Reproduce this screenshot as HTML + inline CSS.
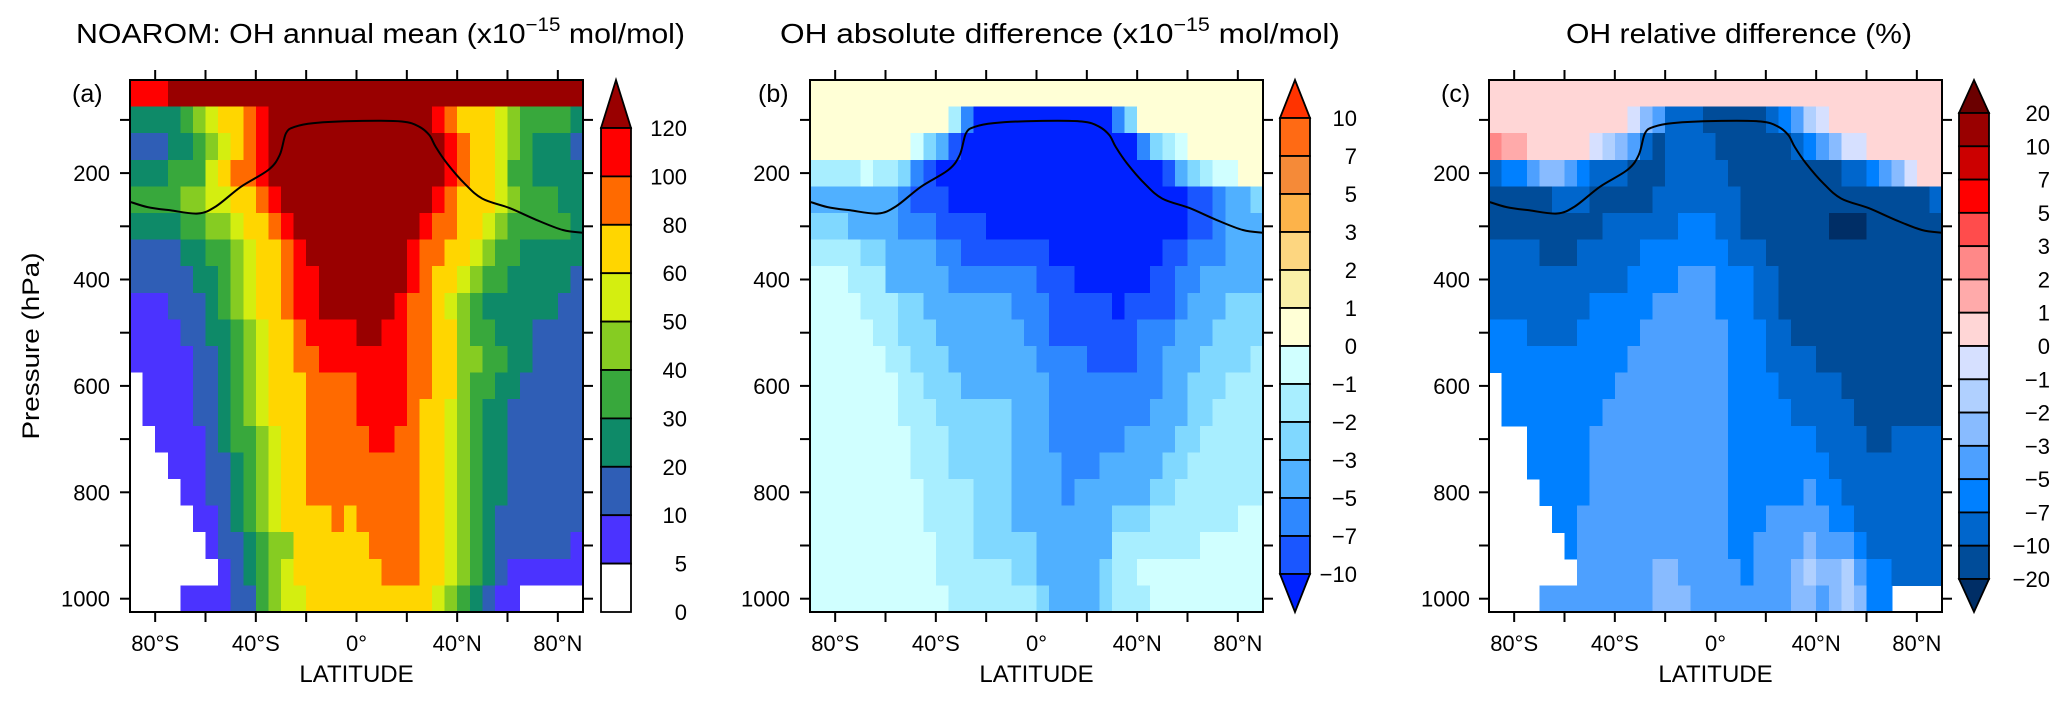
<!DOCTYPE html>
<html>
<head>
<meta charset="utf-8">
<style>
html,body{margin:0;padding:0;background:#fff;}
svg{display:block;}
text{font-family:"Liberation Sans",sans-serif;fill:#000;}
</style>
</head>
<body>
<svg id="chart" xmlns="http://www.w3.org/2000/svg" width="2067" height="701" viewBox="0 0 2067 701">
  <rect x="0" y="0" width="2067" height="701" fill="#fff"/>
  <text x="76" y="43" font-size="28" textLength="609" lengthAdjust="spacingAndGlyphs">NOAROM: OH annual mean (x10<tspan font-size="19" dy="-12">−15</tspan><tspan dy="12"> mol/mol)</tspan></text>
  <text x="780" y="43" font-size="28" textLength="560" lengthAdjust="spacingAndGlyphs">OH absolute difference (x10<tspan font-size="19" dy="-12">−15</tspan><tspan dy="12"> mol/mol)</tspan></text>
  <text x="1566" y="43" font-size="28" textLength="346" lengthAdjust="spacingAndGlyphs">OH relative difference (%)</text>
  <text x="72" y="102" font-size="25">(a)</text>
  <text x="758" y="102" font-size="25">(b)</text>
  <text x="1441" y="102" font-size="25">(c)</text>
  <text x="0" y="0" font-size="24" text-anchor="middle" transform="translate(39,346) rotate(-90)" textLength="187" lengthAdjust="spacingAndGlyphs">Pressure (hPa)</text>
</svg>
<script>
// ---------- data ----------
const PRESS_CENTERS = [50,100,150,200,250,300,350,400,450,500,550,600,650,700,750,800,850,900,950,1000];
const LAT_START = -90;
const LAT_STEP = 5;
const N_COLS = 36;
const Y_TICKS = [100,200,300,400,500,600,700,800,900,1000];
const Y_TICK_LABELS = ['200','400','600','800','1000'];
const Y_TICK_LABEL_VALUES = [200,400,600,800,1000];
const X_TICKS = [-80,-60,-40,-20,0,20,40,60,80];
const X_TICK_LABEL_VALUES = [-80,-40,0,40,80];
const X_TICK_LABELS = ['80°S','40°S','0°','40°N','80°N'];

// tropopause (hPa) vs latitude
const TROPO_LAT = [-90,-83,-74,-63,-56,-46,-35,-30.5,-28,-24.5,-17,0,18,25,29,31.5,36,43,50,61,71.5,82,90];
const TROPO_P   = [254,264,270,276,263,226,194,166,125,113,106,102,103,113,129,151,182,220,248,266,288,307,312];

// levels / colors
const LEV_A = [5,10,20,30,40,50,60,80,100,120];
const COL_A = ['#FFFFFF','#4B33FF','#2F5EB6','#0E8A68','#38A83C','#86CC22','#D4EE10','#FFD600','#FF6A00','#FF0000','#990000'];
const CB_LABELS_A = ['120','100','80','60','50','40','30','20','10','5','0'];
const LEV_B = [-10,-7,-5,-3,-2,-1,0,1,2,3,5,7,10];
const COL_B = ['#0022FF','#1A56FF','#2E88FF','#50B0FF','#80D8FF','#A8EEFF','#D0FFFF','#FFFFD6','#FAF0A8','#FDD680','#FDB34A','#F58A38','#FF6A14','#FF3300'];
const CB_LABELS_B = ['10','7','5','3','2','1','0','−1','−2','−3','−5','−7','−10'];
const LEV_C = [-20,-10,-7,-5,-3,-2,-1,0,1,2,3,5,7,10,20];
const COL_C = ['#002E66','#004C99','#0066CC','#0080FF','#4DA0FF','#88BBFF','#B0D0FF','#D6E0FF','#FFD6D6','#FFAAAA','#FF8888','#FF4C4C','#FF0000','#CC0000','#990000','#6B0000'];
const CB_LABELS_C = ['20','10','7','5','3','2','1','0','−1','−2','−3','−5','−7','−10','−20'];

// run-length rows: value,count pairs (null = missing)
const A_ROWS = [
[110,3,130,33],
[25,4,35,1,45,1,55,1,70,2,90,1,110,1,130,13,110,1,90,1,70,3,55,1,45,1,35,4,25,1],
[15,3,25,2,35,1,45,1,55,1,70,1,90,1,110,1,130,14,110,1,90,1,70,2,55,1,45,1,35,1,25,3,15,1],
[25,3,35,3,55,1,70,1,90,2,110,1,130,14,110,1,90,1,70,2,55,1,35,2,25,4],
[35,4,45,2,55,2,70,2,90,1,110,1,130,12,110,1,90,1,70,3,55,1,45,1,35,3,25,2],
[25,4,35,2,45,2,55,1,70,2,90,1,110,1,130,10,110,1,90,2,70,2,55,1,45,1,35,5,25,1],
[15,4,25,2,35,2,45,1,55,1,70,2,90,1,110,1,130,8,110,1,90,2,70,2,55,1,45,1,35,2,25,5],
[15,5,25,2,35,1,45,1,55,1,70,2,90,1,110,2,130,7,110,1,90,1,70,2,55,1,45,1,35,2,25,5,15,1],
[7,3,15,3,25,1,35,1,45,1,55,1,70,2,90,1,110,2,130,6,110,1,90,2,70,1,55,1,45,1,35,1,25,6,15,2],
[7,4,15,2,25,2,35,1,45,1,55,1,70,2,90,1,110,4,130,2,110,2,90,2,70,2,45,1,35,2,25,3,15,4],
[7,5,15,2,25,1,35,1,45,1,55,1,70,2,90,2,110,7,90,2,70,2,45,2,35,2,25,2,15,4],
[2,1,7,4,15,2,25,1,35,1,45,1,55,1,70,3,90,4,110,4,90,2,70,2,45,1,35,2,25,2,15,5],
[2,1,7,4,15,2,25,1,35,1,45,1,55,1,70,3,90,4,110,4,90,1,70,2,55,1,45,1,35,1,25,2,15,6],
[2,2,7,4,15,1,25,1,35,2,45,1,55,1,70,2,90,5,110,2,90,2,70,2,55,1,45,1,35,1,25,2,15,6],
[2,3,7,3,15,2,25,1,35,1,45,1,55,1,70,2,90,9,70,2,55,1,45,1,35,1,25,2,15,6],
[2,4,7,2,15,2,25,1,35,1,45,1,55,1,70,2,90,9,70,2,55,1,45,1,35,1,25,2,15,6],
[2,5,7,2,15,1,25,1,35,1,45,1,55,1,70,4,90,1,70,1,90,5,70,2,55,1,45,1,35,1,25,1,15,7],
[2,6,7,1,15,2,25,1,35,1,45,2,70,6,90,4,70,2,55,1,45,1,35,1,25,1,15,6,7,1],
[2,7,7,1,15,1,25,1,35,1,45,1,55,1,70,7,90,3,70,2,55,1,45,1,35,1,25,1,15,1,7,6],
[2,4,7,4,15,2,35,1,45,1,55,2,70,10,55,1,45,1,35,1,25,1,15,1,7,2,2,5]
];
const B_ROWS = [
[0.5,36],
[0.5,11,-1.5,1,-6,1,-12,11,-6,1,-2.5,1,0.5,10],
[0.5,8,-0.5,1,-2.5,1,-4,1,-8.5,1,-12,14,-6,1,-2.5,1,-1.5,1,-0.5,1,0.5,6],
[-1.5,4,-0.5,1,-1.5,2,-2.5,1,-6,1,-8.5,1,-12,18,-8.5,1,-4,1,-2.5,1,-1.5,1,-0.5,2,0.5,2],
[-4,7,-6,1,-8.5,3,-12,19,-8.5,2,-6,1,-4,2,-2.5,1],
[-2.5,3,-4,4,-6,3,-8.5,4,-12,16,-8.5,2,-6,1,-4,3],
[-1.5,4,-2.5,2,-4,4,-6,2,-8.5,7,-12,9,-8.5,2,-6,3,-4,3],
[-0.5,3,-1.5,3,-4,5,-6,7,-8.5,3,-12,6,-8.5,2,-6,2,-4,5],
[-0.5,4,-1.5,3,-2.5,2,-4,7,-6,3,-8.5,5,-12,1,-8.5,4,-6,1,-4,3,-2.5,3],
[-0.5,5,-1.5,2,-2.5,3,-4,7,-6,2,-8.5,7,-6,3,-4,3,-2.5,4],
[-0.5,6,-1.5,2,-2.5,3,-4,7,-6,4,-8.5,4,-6,2,-4,3,-2.5,4,-1.5,1],
[-0.5,7,-1.5,2,-2.5,3,-4,7,-6,9,-4,2,-2.5,3,-1.5,3],
[-0.5,7,-1.5,3,-2.5,6,-4,3,-6,8,-4,3,-2.5,2,-1.5,4],
[-0.5,8,-1.5,3,-2.5,5,-4,3,-6,6,-4,4,-2.5,2,-1.5,5],
[-0.5,8,-1.5,3,-2.5,5,-4,4,-6,3,-4,5,-2.5,2,-1.5,6],
[-0.5,9,-1.5,4,-2.5,3,-4,4,-6,1,-4,6,-2.5,2,-1.5,7],
[-0.5,9,-1.5,4,-2.5,3,-4,8,-2.5,3,-1.5,7,-0.5,2],
[-0.5,10,-1.5,3,-2.5,5,-4,6,-1.5,7,-0.5,5],
[-0.5,10,-1.5,6,-2.5,2,-4,5,-2.5,1,-1.5,2,-0.5,10],
[-0.5,11,-1.5,7,-2.5,1,-4,4,-2.5,1,-1.5,3,-0.5,9]
];
const C_ROWS = [
[0.5,36],
[0.5,11,-0.5,1,-2.5,1,-4,1,-8.5,3,-15,5,-8.5,1,-6,1,-4,1,-1.5,1,-0.5,1,0.5,9],
[2.5,1,1.5,2,0.5,5,-0.5,1,-1.5,1,-2.5,1,-4,1,-8.5,1,-15,1,-8.5,4,-15,6,-8.5,1,-6,1,-4,1,-2.5,1,-0.5,2,0.5,6],
[-8.5,1,-6,2,-4,1,-2.5,2,-4,1,-6,1,-8.5,3,-15,3,-8.5,5,-15,9,-8.5,2,-6,1,-4,1,-2.5,1,-0.5,1,0.5,2],
[-15,5,-8.5,3,-15,5,-8.5,7,-15,15,-8.5,1],
[-15,9,-8.5,6,-6,3,-8.5,2,-15,7,-25,3,-15,6],
[-8.5,4,-15,3,-8.5,5,-6,7,-8.5,3,-15,14],
[-8.5,11,-6,4,-4,3,-6,3,-8.5,2,-15,13],
[-8.5,8,-6,5,-4,5,-6,3,-8.5,2,-15,13],
[-6,3,-8.5,4,-6,5,-4,7,-6,3,-8.5,2,-15,12],
[-6,11,-4,8,-6,3,-8.5,4,-15,10],
[null,1,-6,9,-4,9,-6,4,-8.5,5,-15,8],
[null,1,-6,8,-4,10,-6,5,-8.5,5,-15,7],
[null,3,-6,5,-4,11,-6,7,-8.5,4,-15,2,-8.5,4],
[null,3,-6,5,-4,11,-6,8,-8.5,9],
[null,4,-6,4,-4,11,-6,6,-4,1,-6,2,-8.5,8],
[null,5,-6,2,-4,12,-6,3,-4,5,-6,2,-8.5,7],
[null,6,-6,1,-4,12,-6,2,-4,4,-2.5,1,-4,3,-6,1,-8.5,6],
[null,7,-4,6,-2.5,2,-4,5,-6,1,-4,3,-2.5,1,-1.5,1,-2.5,2,-1.5,1,-4,1,-6,2,-8.5,4],
[null,4,-4,9,-2.5,3,-4,8,-2.5,2,-4,1,-2.5,1,-1.5,1,-2.5,1,-6,2,null,4]
];

// ---------- rendering ----------
const NS = 'http://www.w3.org/2000/svg';
const svg = document.getElementById('chart');
const PLOT_TOP = 80, PLOT_BOT = 612, P_TOP = 25, P_BOT = 1025;

function mk(tag, attrs, parent) {
  const el = document.createElementNS(NS, tag);
  for (const k in attrs) el.setAttribute(k, attrs[k]);
  (parent || svg).appendChild(el);
  return el;
}
function expand(rle) {
  const out = [];
  for (let i = 0; i < rle.length; i += 2) for (let k = 0; k < rle[i + 1]; k++) out.push(rle[i]);
  return out;
}
function classify(v, levels) {
  let idx = 0;
  for (const l of levels) if (v >= l) idx++;
  return idx;
}
function yScale(p) { return PLOT_TOP + (p - P_TOP) / (P_BOT - P_TOP) * (PLOT_BOT - PLOT_TOP); }

const PANELS = [
  {id:'a', L:130, R:583, rows:A_ROWS, lev:LEV_A, col:COL_A, cbX:601, cbLabelX:687, cbTop:128, cbBot:612, bottomTri:false, labels:CB_LABELS_A, tickLabelX:110},
  {id:'b', L:810, R:1263, rows:B_ROWS, lev:LEV_B, col:COL_B, cbX:1280, cbLabelX:1357, cbTop:118, cbBot:574, bottomTri:true, labels:CB_LABELS_B, tickLabelX:790},
  {id:'c', L:1489, R:1942, rows:C_ROWS, lev:LEV_C, col:COL_C, cbX:1959, cbLabelX:2050, cbTop:113, cbBot:579, bottomTri:true, labels:CB_LABELS_C, tickLabelX:1470}
];

PANELS.forEach(P => {
  const xScale = lat => P.L + (lat + 90) / 180 * (P.R - P.L);
  const g = mk('g', {});
  
  

  const cells = mk('g', {'shape-rendering':'crispEdges'}, g);
  
  
  P.rows.forEach((rle, j) => {
    const vals = expand(rle);
    const p = PRESS_CENTERS[j];
    const y0 = yScale(p - 25), y1 = yScale(p + 25);
    for (let i = 0; i < N_COLS && i < vals.length; i++) {
      const v = vals[i];
      if (v === null) continue;
      const lat0 = LAT_START + i * LAT_STEP;
      const x0 = xScale(lat0), x1 = xScale(lat0 + LAT_STEP);
      const r = mk('rect', {x:x0.toFixed(2), y:y0.toFixed(2), width:(x1 - x0 + 0.6).toFixed(2), height:(y1 - y0 + 0.6).toFixed(2), fill:P.col[classify(v, P.lev)]}, cells);
      
      
    }
  });

  // tropopause
  const pts = TROPO_LAT.map((lat, k) => [xScale(lat), yScale(TROPO_P[k])]);
  let d = 'M' + pts[0][0].toFixed(1) + ',' + pts[0][1].toFixed(1);
  for (let k = 0; k < pts.length - 1; k++) {
    const p0 = pts[Math.max(0, k - 1)], p1 = pts[k], p2 = pts[k + 1], p3 = pts[Math.min(pts.length - 1, k + 2)];
    const c1 = [p1[0] + (p2[0] - p0[0]) / 6, p1[1] + (p2[1] - p0[1]) / 6];
    const c2 = [p2[0] - (p3[0] - p1[0]) / 6, p2[1] - (p3[1] - p1[1]) / 6];
    d += ' C' + c1[0].toFixed(1) + ',' + c1[1].toFixed(1) + ' ' + c2[0].toFixed(1) + ',' + c2[1].toFixed(1) + ' ' + p2[0].toFixed(1) + ',' + p2[1].toFixed(1);
  }
  const tp = mk('path', {d:d, fill:'none', stroke:'#000', 'stroke-width':2}, g);
  
  

  // frame
  const fr = mk('rect', {x:P.L, y:PLOT_TOP, width:P.R - P.L, height:PLOT_BOT - PLOT_TOP, fill:'none', stroke:'#000', 'stroke-width':2}, g);
  
  

  // ticks
  const ticks = mk('g', {stroke:'#000', 'stroke-width':2}, g);
  
  
  Y_TICKS.forEach(p => {
    const y = yScale(p);
    mk('line', {x1:P.L - 10, x2:P.L, y1:y, y2:y}, ticks);
    mk('line', {x1:P.R, x2:P.R + 10, y1:y, y2:y}, ticks);
  });
  X_TICKS.forEach(lat => {
    const x = xScale(lat);
    mk('line', {x1:x, x2:x, y1:PLOT_TOP - 10, y2:PLOT_TOP}, ticks);
    mk('line', {x1:x, x2:x, y1:PLOT_BOT, y2:PLOT_BOT + 10}, ticks);
  });
  Y_TICK_LABEL_VALUES.forEach((p, k) => {
    const t = mk('text', {x:P.tickLabelX, y:yScale(p) + 8, 'font-size':22, 'text-anchor':'end'}, g);
    t.textContent = Y_TICK_LABELS[k];
    
    
  });
  X_TICK_LABEL_VALUES.forEach((lat, k) => {
    const t = mk('text', {x:xScale(lat), y:651, 'font-size':22, 'text-anchor':'middle'}, g);
    t.textContent = X_TICK_LABELS[k];
    
    
  });
  const xt = mk('text', {x:(P.L + P.R) / 2, y:682, 'font-size':24, 'text-anchor':'middle'}, g);
  xt.textContent = 'LATITUDE';
  
  

  // colorbar
  const cb = mk('g', {}, g);
  
  
  const W = 30, n = P.col.length;
  const topColor = P.col[n - 1];
  const boxColors = P.bottomTri ? P.col.slice(1, n - 1).reverse() : P.col.slice(0, n - 1).reverse();
  const h = (P.cbBot - P.cbTop) / boxColors.length;
  const tri1 = mk('polygon', {points:`${P.cbX},${P.cbTop} ${P.cbX + W / 2},${PLOT_TOP} ${P.cbX + W},${P.cbTop}`, fill:topColor, stroke:'#000', 'stroke-width':1.8}, cb);
  
  
  boxColors.forEach((c, k) => {
    const b = mk('rect', {x:P.cbX, y:P.cbTop + k * h, width:W, height:h, fill:c, stroke:'#000', 'stroke-width':1.8}, cb);
    
    
  });
  if (P.bottomTri) {
    const tri2 = mk('polygon', {points:`${P.cbX},${P.cbBot} ${P.cbX + W / 2},${PLOT_BOT} ${P.cbX + W},${P.cbBot}`, fill:P.col[0], stroke:'#000', 'stroke-width':1.8}, cb);
    
    
  }
  P.labels.forEach((lab, k) => {
    const t = mk('text', {x:P.cbLabelX, y:P.cbTop + k * h + 8, 'font-size':22, 'text-anchor':'end'}, cb);
    t.textContent = lab;
    
    
  });
});
</script>
</body>
</html>
